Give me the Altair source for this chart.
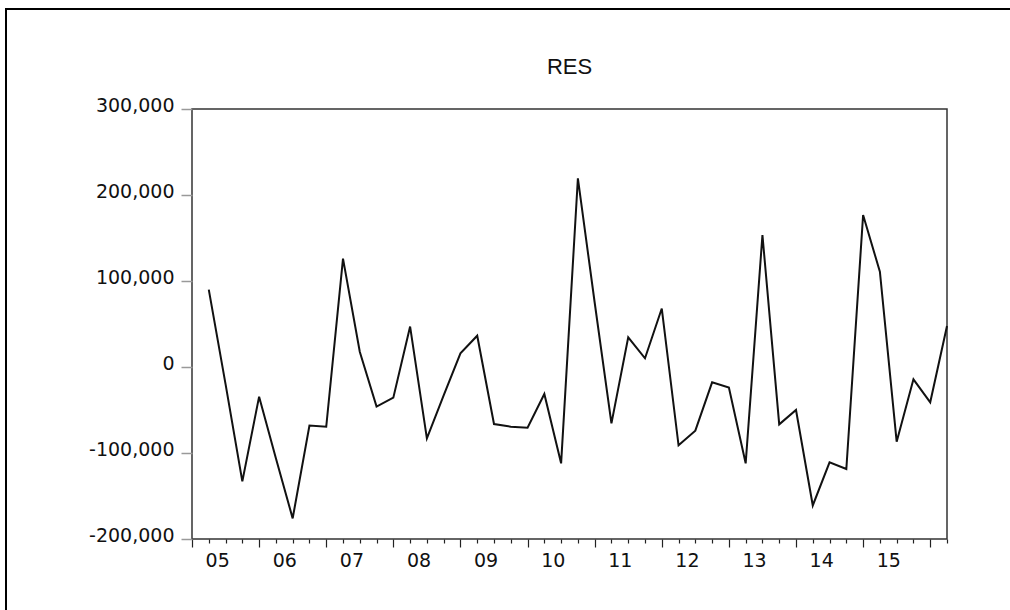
import altair as alt
import pandas as pd

# Quarterly residual series, 2005Q1 .. 2016Q1
quarters = [f"{y}Q{q}" for y in range(2005, 2017) for q in range(1, 5)][:45]
res = [
    90000, -20000, -133000, -34500,
    -106000, -176000, -68000, -69500,
    126000, 17800, -46000, -35700,
    47000, -83000, -33000, 15900,
    36400, -66300, -69400, -70500,
    -31400, -112000, 219400, 75000,
    -65500, 34500, 10100, 68000,
    -91000, -74000, -17800, -24000,
    -112000, 153500, -66700, -50000,
    -161000, -110800, -118600, 176700,
    110800, -86800, -14300, -41000,
    47700,
]
y_ticks = [-200000, -100000, 0, 100000, 200000, 300000]
chart_title = "RES"

df = pd.DataFrame({"quarter": quarters, "pos": range(1, len(quarters) + 1), "RES": res})
single = pd.DataFrame({"label": [chart_title]})

W, H = 755, 430
FONT = "DejaVu Sans"

x_axis = alt.Axis(
    values=list(range(0, 46)),
    domain=False,
    grid=False,
    tickColor="#222222",
    tickWidth=1.2,
    tickSize={"condition": {"test": "datum.value % 4 === 0", "value": 8}, "value": 4},
    labelExpr="datum.value % 4 === 1 && datum.value < 45 ? "
              "(5 + (datum.value - 1) / 4 < 10 ? '0' : '') + (5 + (datum.value - 1) / 4) : ''",
    labelOffset=8.4,
    labelOverlap=False,
    labelBound=False,
    labelFlush=False,
    labelFont=FONT,
    labelFontSize=19,
    labelColor="#111111",
    labelPadding=8,
    title=None,
)

y_axis = alt.Axis(
    values=y_ticks,
    domain=False,
    grid=False,
    tickColor="#999999",
    tickSize=11,
    tickWidth=1.5,
    labelExpr="datum.value < 0 ? '-' + format(-datum.value, ',') : format(datum.value, ',')",
    labelFont=FONT,
    labelFontSize=19,
    labelColor="#111111",
    labelPadding=7,
    labelBaseline="alphabetic",
    labelOffset=2,
    title=None,
)

line = alt.Chart(df).mark_line(color="#111111", strokeWidth=2).encode(
    x=alt.X("pos:Q", scale=alt.Scale(domain=[0, 45], nice=False, zero=False), axis=x_axis),
    y=alt.Y("RES:Q", scale=alt.Scale(domain=[-200000, 300000], nice=False), axis=y_axis),
)

title = alt.Chart(single).mark_text(
    font="Liberation Sans", fontSize=22, fontWeight="normal", color="#111111",
    align="center", baseline="middle",
).encode(x=alt.value(W / 2), y=alt.value(-42), text="label:N")

# outer frame of the graph window; its right and bottom edges fall outside the page
frame = alt.Chart(single).mark_rect(fill="transparent", stroke="#000000", strokeWidth=2).encode(
    x=alt.value(-186), x2=alt.value(840), y=alt.value(-100), y2=alt.value(540)
)

chart = (
    alt.layer(line, title, frame)
    .properties(
        width=W,
        height=H,
        autosize=alt.AutoSizeParams(type="none"),
        padding={"left": 192, "top": 109, "right": 63, "bottom": 71},
        background="white",
    )
    .configure_view(stroke="#333333", strokeWidth=1.5)
)

chart.save("out.html", embed_options={"renderer": "svg", "actions": False})
